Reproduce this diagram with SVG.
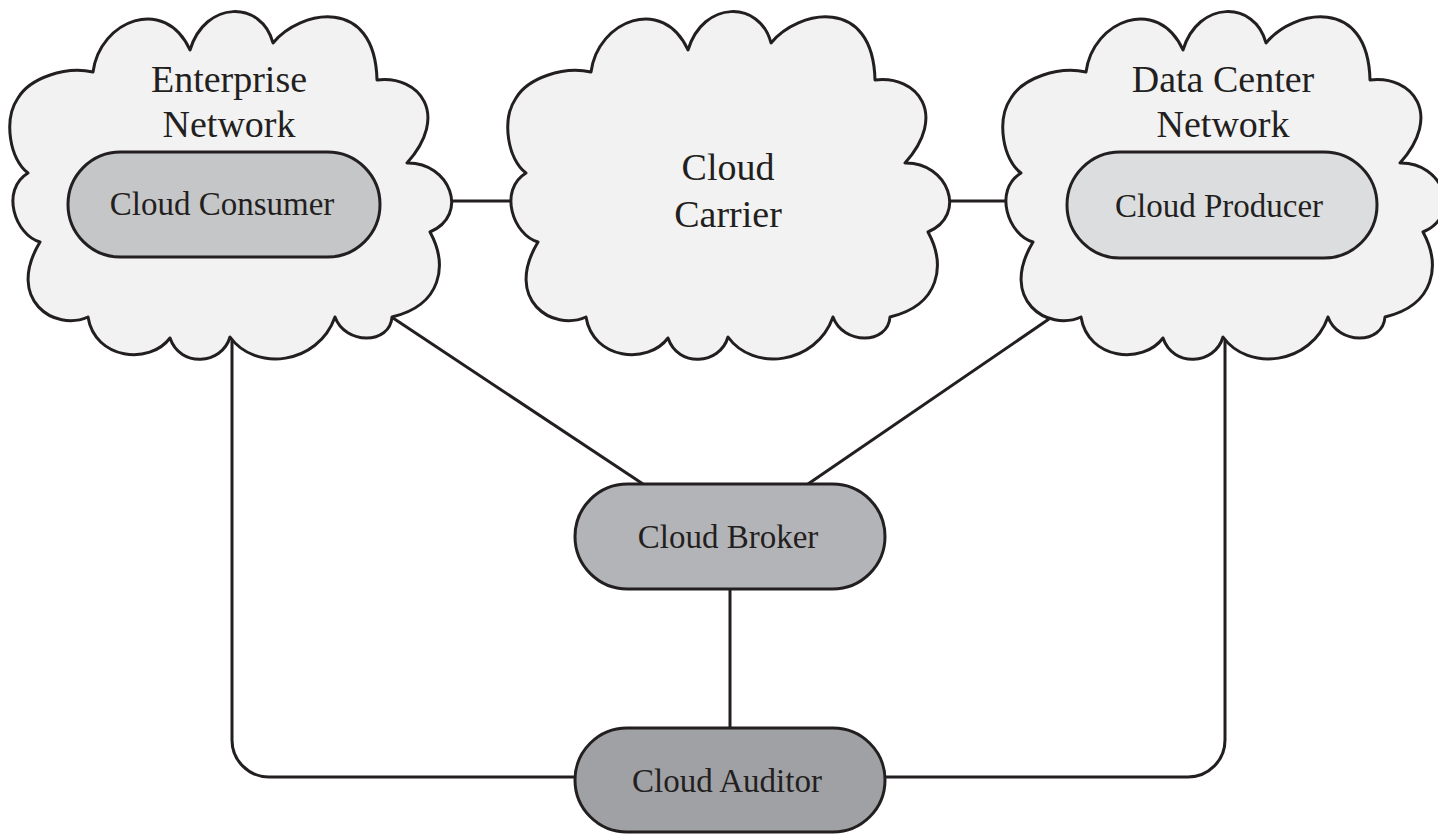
<svg xmlns="http://www.w3.org/2000/svg" xmlns:xlink="http://www.w3.org/1999/xlink" width="1438" height="835" viewBox="0 0 1438 835">
<style>
.cloud{fill:#f2f2f2;stroke:#231f20;stroke-width:3;stroke-linejoin:round}
.pill{stroke:#231f20;stroke-width:3}
.conn{fill:none;stroke:#231f20;stroke-width:3}
.big{font-family:"Liberation Serif","Times New Roman",serif;font-size:38px;fill:#231f20;text-anchor:middle}
.lbl{font-family:"Liberation Serif","Times New Roman",serif;font-size:33px;fill:#231f20;text-anchor:middle}
</style>
<defs>
<path id="cloudShape" d="M190,50 C205,0 262,0 273,43 C300,10 375,-5 377,80 C420,75 450,115 407,163 C450,162 470,215 430,232 C448,265 442,305 392,317 C390,345 345,345 335,317 C318,365 255,372 230,337 C222,365 180,368 170,338 C150,365 95,360 88,317 C55,332 5,300 40,242 C15,235 0,190 28,173 C10,160 3,120 18,98 C30,78 65,66 93,72 C100,20 165,-5 190,50 Z"/>
</defs>
<rect width="1438" height="835" fill="#ffffff"/>
<g id="connectors">
<line class="conn" x1="440" y1="201" x2="525" y2="201"/>
<line class="conn" x1="940" y1="201" x2="1020" y2="201"/>
<line class="conn" x1="390" y1="316" x2="643" y2="484"/>
<line class="conn" x1="1049" y1="319" x2="808" y2="484"/>
<line class="conn" x1="730" y1="589" x2="730" y2="728"/>
<path class="conn" d="M232,340 V740 A37,37 0 0 0 269,777 H580"/>
<path class="conn" d="M1225,340 V740 A37,37 0 0 1 1188,777 H880"/>
</g>
<g id="enterprise-network">
<use xlink:href="#cloudShape" href="#cloudShape" class="cloud"/>
<text class="big" x="229" y="92">Enterprise</text>
<text class="big" x="229" y="137">Network</text>
</g>
<g id="cloud-carrier">
<use xlink:href="#cloudShape" href="#cloudShape" class="cloud" x="498" y="0"/>
<text class="big" x="728" y="180">Cloud</text>
<text class="big" x="728" y="227">Carrier</text>
</g>
<g id="data-center-network">
<use xlink:href="#cloudShape" href="#cloudShape" class="cloud" x="993" y="0"/>
<text class="big" x="1223" y="92">Data Center</text>
<text class="big" x="1223" y="137">Network</text>
</g>
<g id="cloud-consumer">
<rect class="pill" x="68" y="152" width="312" height="105" rx="52.5" ry="52.5" fill="#c5c6c8"/>
<text class="lbl" x="222" y="215">Cloud Consumer</text>
</g>
<g id="cloud-producer">
<rect class="pill" x="1067" y="152" width="310" height="106" rx="53" ry="53" fill="#dcdddf"/>
<text class="lbl" x="1219" y="217">Cloud Producer</text>
</g>
<g id="cloud-broker">
<rect class="pill" x="575" y="484" width="310" height="105" rx="52.5" ry="52.5" fill="#b3b4b7"/>
<text class="lbl" x="728" y="548">Cloud Broker</text>
</g>
<g id="cloud-auditor">
<rect class="pill" x="575" y="728" width="310" height="104" rx="52" ry="52" fill="#a0a1a4"/>
<text class="lbl" x="727" y="792">Cloud Auditor</text>
</g>
</svg>
